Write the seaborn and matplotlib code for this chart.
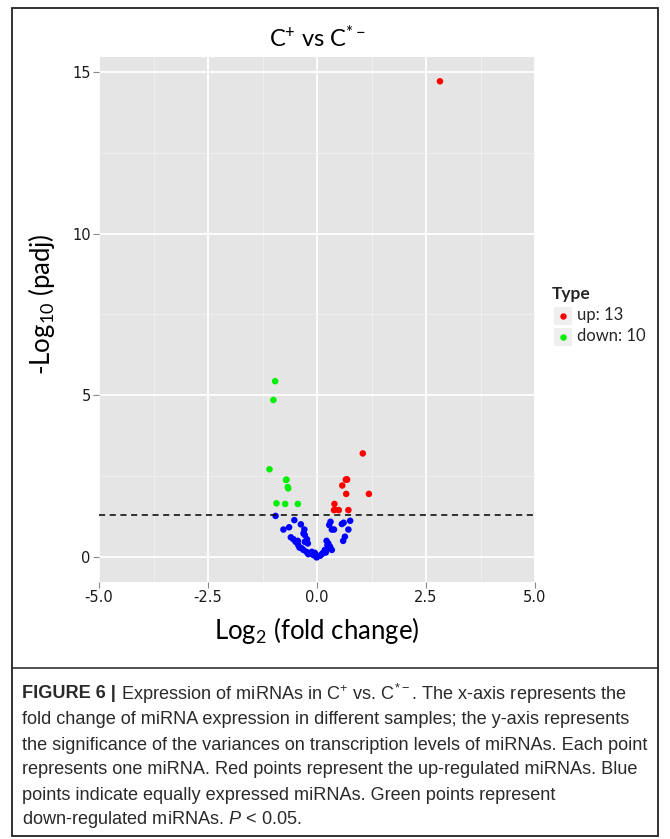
import numpy as np
import pandas as pd
import seaborn as sns
import matplotlib
matplotlib.use("Agg")
import matplotlib.pyplot as plt
from matplotlib.patches import Rectangle
from matplotlib.lines import Line2D

# ---------------- data ----------------
up_x = [2.82, 1.05, 0.66, 0.69, 0.58, 0.67, 1.19, 0.40, 0.39, 0.50, 0.72, 0.68, 0.41]
up_y = [14.70, 3.21, 2.40, 2.40, 2.22, 1.96, 1.96, 1.65, 1.46, 1.46, 1.46, 2.41, 1.47]

down_x = [-0.96, -1.00, -1.09, -0.70, -0.67, -0.66, -0.93, -0.73, -0.44, -0.71]
down_y = [5.44, 4.86, 2.72, 2.40, 2.17, 2.13, 1.67, 1.65, 1.65, 2.39]

normal_x = [-0.95, -0.77, -0.64, -0.52, -0.37, -0.29, -0.31, -0.60, -0.54, -0.49,
            -0.44, -0.43, -0.35, -0.28, -0.21, -0.31, -0.24, -0.16, -0.08, -0.01,
            0.03, 0.31, 0.28, 0.34, 0.39, 0.57, 0.61, 0.76, 0.72, 0.64,
            0.60, 0.22, 0.26, 0.30, 0.34, 0.25, 0.18, 0.14, 0.11, 0.07,
            -0.28, -0.23, -0.12, -0.05, -0.20, 0.00, 0.20, 0.24, -0.40]
normal_y = [1.28, 0.86, 0.93, 1.15, 1.02, 0.86, 0.74, 0.62, 0.56, 0.48,
            0.51, 0.38, 0.28, 0.48, 0.43, 0.23, 0.17, 0.12, 0.07, 0.00,
            0.04, 1.10, 1.00, 0.86, 0.86, 1.03, 1.07, 1.13, 0.86, 0.64,
            0.51, 0.51, 0.43, 0.33, 0.23, 0.28, 0.23, 0.14, 0.10, 0.05,
            0.69, 0.56, 0.17, 0.14, 0.10, 0.02, 0.15, 0.38, 0.30]

type_names = ["up", "down", "normal"]
type_colors = ["#FF0000", "#00EE00", "#0000FF"]
legend_labels = ["up: 13", "down: 10"]
x_ticks = [-5.0, -2.5, 0.0, 2.5, 5.0]
y_ticks = [0, 5, 10, 15]
threshold = 1.301

df = pd.DataFrame({
    "log2fc": normal_x + up_x + down_x,
    "padj": normal_y + up_y + down_y,
    "Type": ["normal"] * len(normal_x) + ["up"] * len(up_x) + ["down"] * len(down_x),
})

# ---------------- style ----------------
sns.set_theme(style="darkgrid")
plt.rcParams["font.family"] = ["DejaVu Sans"]
plt.rcParams["mathtext.default"] = "regular"
plt.rcParams["mathtext.fontset"] = "custom"
plt.rcParams["mathtext.rm"] = "Liberation Sans"
plt.rcParams["mathtext.it"] = "Liberation Sans:italic"

W, H = 670, 839
fig = plt.figure(figsize=(W / 100, H / 100), dpi=100)
fig.patch.set_facecolor("white")

def fx(px):
    return px / W

def fy(py):
    return 1 - py / H

ax = fig.add_axes([fx(99), fy(582), fx(535) - fx(99), fy(57) - fy(582)])
ax.set_facecolor("#E5E5E5")

palette = dict(zip(type_names, type_colors))
sns.scatterplot(data=df, x="log2fc", y="padj", hue="Type", palette=palette,
                s=22, linewidth=0, legend=False, ax=ax, zorder=3)

ax.axhline(threshold, color="black", linestyle=(0, (4, 3)), linewidth=1.1, zorder=4)

ax.set_xlim(-5, 5)
ax.set_ylim(-0.76, 15.45)
ax.set_xticks(x_ticks)
ax.set_xticklabels([f"{v:.1f}" for v in x_ticks])
ax.set_yticks(y_ticks)
ax.set_yticklabels([str(v) for v in y_ticks])
ax.set_xticks([-3.75, -1.25, 1.25, 3.75], minor=True)
ax.set_yticks([2.5, 7.5, 12.5], minor=True)
ax.grid(which="major", color="white", linewidth=1.3, zorder=0)
ax.grid(which="minor", color="#F2F2F2", linewidth=0.6, zorder=0)
ax.set_axisbelow(True)
for sp in ax.spines.values():
    sp.set_visible(False)
ax.tick_params(axis="both", which="major", length=4, width=0.8, color="#888888",
               labelsize=10.5, labelcolor="#1A1A1A", pad=2, bottom=True, left=True)
ax.tick_params(axis="both", which="minor", length=0)

ax.set_xlabel("Log$_{2}$ (fold change)", fontsize=18.5, family="Lato", color="black", labelpad=7)
ax.set_ylabel("-Log$_{10}$ (padj)", fontsize=18.5, family="Lato", color="black", labelpad=11)
ax.yaxis.label.set_y(0.53)
ax.set_title("C$^{+}$ vs C$^{*-}$", fontsize=17, family="Lato", color="black", pad=7)

# ---------------- legend (manual) ----------------
fig.text(fx(552), fy(294), "Type", fontsize=12.5, family="Lato", weight="bold",
         va="center", ha="left")
for i, (lab, col) in enumerate(zip(legend_labels, type_colors[:2])):
    top = 307 + i * 21
    fig.patches.append(Rectangle((fx(554), fy(top + 18)), fx(18), 18 / H,
                                 transform=fig.transFigure, facecolor="#EFEFEF",
                                 edgecolor="none"))
    fig.lines.append(Line2D([fx(563)], [fy(top + 9)], transform=fig.transFigure,
                            marker="o", markersize=3.6, color=col, linestyle="none"))
    fig.text(fx(577), fy(top + 8), lab, fontsize=12, family="Lato", va="center",
             ha="left")

# ---------------- frame ----------------
fig.patches.append(Rectangle((fx(12), fy(836)), fx(646), 828 / H,
                             transform=fig.transFigure, fill=False,
                             edgecolor="#222222", linewidth=1.3))
fig.lines.append(Line2D([fx(12), fx(658)], [fy(668), fy(668)],
                        transform=fig.transFigure, color="#222222", linewidth=1.1))

# ---------------- caption ----------------
cap_font = "Liberation Sans"
lines = [
    " Expression of miRNAs in C$^{+}$ vs. C$^{*-}$. The x-axis represents the",
    "fold change of miRNA expression in different samples; the y-axis represents",
    "the significance of the variances on transcription levels of miRNAs. Each point",
    "represents one miRNA. Red points represent the up-regulated miRNAs. Blue",
    "points indicate equally expressed miRNAs. Green points represent",
    "down-regulated miRNAs. $\\mathit{P}$ < 0.05.",
]
line_y = [694, 719, 745, 770, 795, 819]

# fit caption size so that the widest line spans the same width as in the reference
probe = fig.text(0, 0, lines[2], fontsize=12, family=cap_font)
fig.canvas.draw()
w12 = probe.get_window_extent().width
probe.remove()
cap_size = 12 * 626 / w12

t0 = fig.text(fx(22), fy(line_y[0]), "FIGURE 6 |", fontsize=cap_size, family=cap_font,
              weight="bold", va="center", ha="left", color="#2A2A2A")
fig.canvas.draw()
bb = t0.get_window_extent()
fig.text(bb.x1 / W, fy(line_y[0]), lines[0], fontsize=cap_size, family=cap_font,
         va="center", ha="left", color="#2A2A2A")
for ln, yy in zip(lines[1:], line_y[1:]):
    fig.text(fx(22), fy(yy), ln, fontsize=cap_size, family=cap_font,
             va="center", ha="left", color="#2A2A2A")

fig.savefig("out.png", dpi=100)
